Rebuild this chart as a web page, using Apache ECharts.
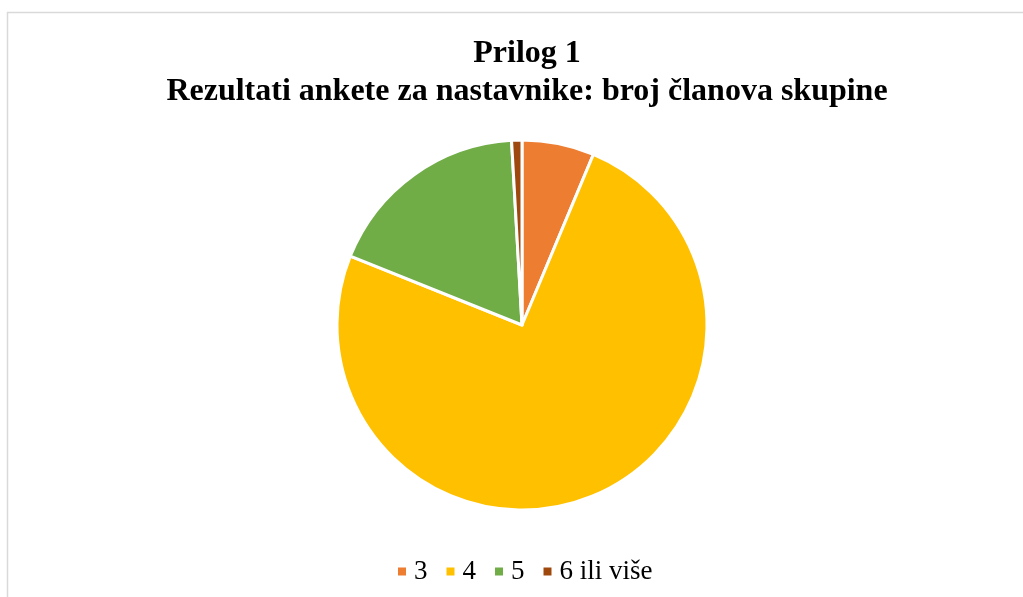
<!DOCTYPE html>
<html>
<head>
<meta charset="utf-8">
<script src="https://cdn.jsdelivr.net/npm/echarts@6/dist/echarts.min.js"></script>
<style>
  html, body { margin: 0; padding: 0; background: #fff; }
  #chart { width: 1023px; height: 597px; }
</style>
</head>
<body>
<div id="chart"></div>
<script>
// Survey answers: number of group members
const categories = ['3', '4', '5', '6 ili više'];
const counts = [7, 83, 20, 1];
const colors = ['#ED7D31', '#FFC000', '#70AD47', '#9E480E'];

const chart = echarts.init(document.getElementById('chart'));
chart.setOption({
  animation: false,
  color: colors,
  graphic: [{
    type: 'polyline',
    shape: { points: [[7.5, 597], [7.5, 12.5], [1023, 12.5]] },
    style: { stroke: '#d9d9d9', lineWidth: 1.5, fill: null }
  }],
  title: {
    text: 'Prilog 1\nRezultati ankete za nastavnike: broj članova skupine',
    left: 522,
    textAlign: 'center',
    top: 30,
    textStyle: {
      fontFamily: 'Liberation Serif',
      fontWeight: 'bold',
      fontSize: 32,
      lineHeight: 38,
      color: '#000'
    }
  },
  legend: {
    top: 553,
    left: 391,
    icon: 'rect',
    itemWidth: 10,
    itemHeight: 10,
    itemGap: 17,
    textStyle: { fontFamily: 'Liberation Serif', fontSize: 27, color: '#000', padding: [0, 0, 0, 2] },
    data: categories
  },
  series: [{
    type: 'pie',
    center: [522, 325],
    radius: 185,
    startAngle: 90,
    clockwise: true,
    label: { show: false },
    labelLine: { show: false },
    itemStyle: { borderColor: '#fff', borderWidth: 3 },
    emphasis: { disabled: true },
    data: categories.map((name, i) => ({ name, value: counts[i] }))
  }]
});
</script>
</body>
</html>
